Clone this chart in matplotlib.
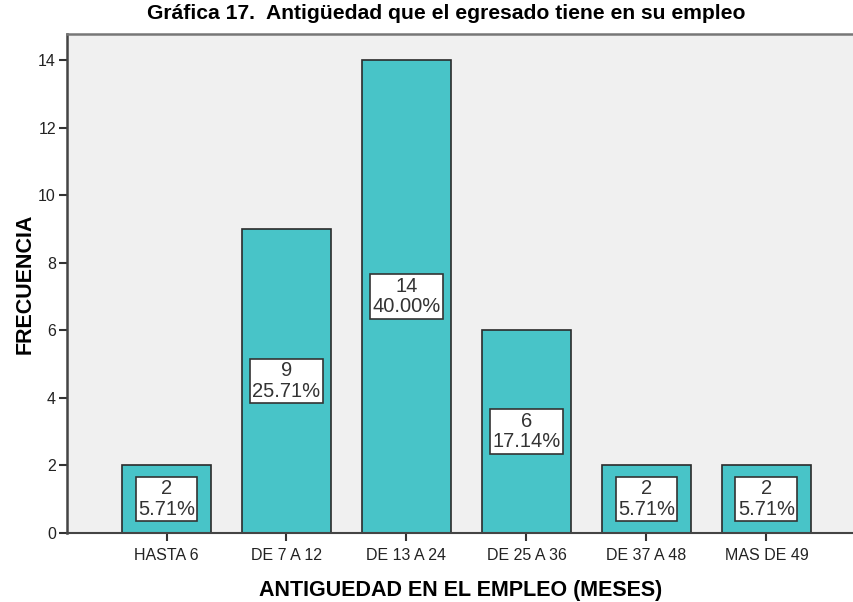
import numpy as np
import matplotlib.pyplot as plt

plt.rcParams['font.family'] = ['Liberation Sans', 'DejaVu Sans']

# datos de la grafica
categorias = ["HASTA 6", "DE 7 A 12", "DE 13 A 24", "DE 25 A 36", "DE 37 A 48", "MAS DE 49"]
frecuencias = [2, 9, 14, 6, 2, 2]
porcentajes = ["5.71%", "25.71%", "40.00%", "17.14%", "5.71%", "5.71%"]
yticks = [0, 2, 4, 6, 8, 10, 12, 14]

fig = plt.figure(figsize=(8.54, 6.02), dpi=100)
ax = fig.add_axes([0.0785, 0.1146, 0.9215, 0.829])
ax.set_facecolor('#F0F0F0')

x = np.arange(len(categorias))
ax.bar(x, frecuencias, width=0.74, color='#48C4C8', edgecolor='#2b2b2b', linewidth=1.2, zorder=2)

for xi, f, p in zip(x, frecuencias, porcentajes):
    ax.text(xi, f / 2, str(f) + "\n" + p, ha='center', va='center', fontsize=14.5,
            color='#333333', linespacing=1.1, zorder=3,
            bbox=dict(boxstyle='square,pad=0.12', facecolor='white', edgecolor='#333333', linewidth=1.2))

ax.set_xlim(-0.829, 5.73)
ax.set_ylim(0, 14.77)
ax.set_xticks(x)
ax.set_xticklabels(categorias, fontsize=11.5, color='#222222')
ax.set_yticks(yticks)
ax.tick_params(axis='y', labelsize=11.5, length=6, width=1.5, color='#333333', labelcolor='#222222', pad=2)
ax.tick_params(axis='x', length=6, width=1.5, color='#333333', pad=5)

ax.spines['right'].set_visible(False)
ax.spines['left'].set_color('#444444')
ax.spines['left'].set_linewidth(1.8)
ax.spines['bottom'].set_color('#444444')
ax.spines['bottom'].set_linewidth(1.5)
ax.spines['top'].set_color('#777777')
ax.spines['top'].set_linewidth(1.8)

ax.set_xlabel("ANTIGUEDAD EN EL EMPLEO (MESES)", fontsize=15.5, fontweight='bold', labelpad=12)
ax.set_ylabel("FRECUENCIA", fontsize=15.5, fontweight='bold', labelpad=2)
fig.text(0.522, 0.993, "Gráfica 17.  Antigüedad que el egresado tiene en su empleo",
         ha='center', va='top', fontsize=15.2, fontweight='bold')

fig.savefig("out.png", dpi=100)
